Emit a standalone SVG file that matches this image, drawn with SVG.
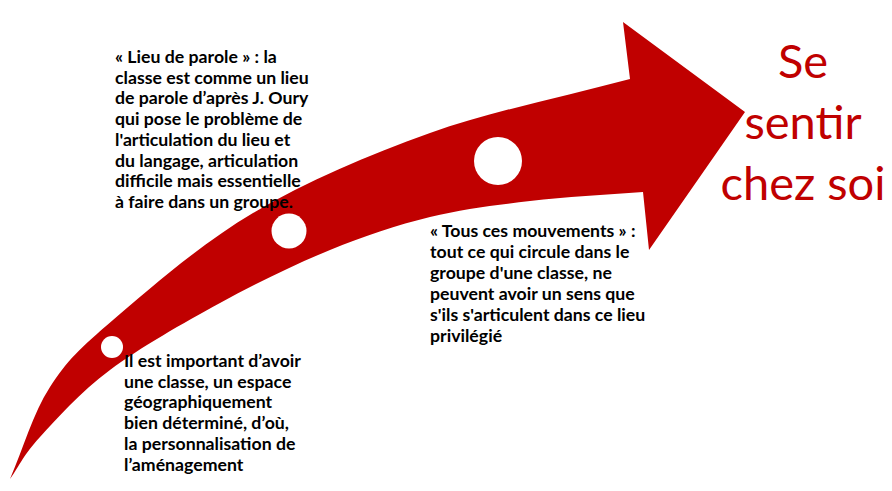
<svg xmlns="http://www.w3.org/2000/svg" width="892" height="491" viewBox="0 0 892 491">
<style>
.body{font-family:Lato,"Liberation Sans",sans-serif;font-weight:bold;font-size:17.7px;fill:#000}
.title{font-family:Lato,"Liberation Sans",sans-serif;font-size:47px;fill:#C00000;text-anchor:middle}
.dot{fill:#fff}
</style>
<rect width="892" height="491" fill="#fff"/>
<g id="arrow">
<path fill="#C00000" d="M10,479 C23.3,448.3 32.8,413.5 50,387 C67.2,360.5 79.2,349 113,320 C146.8,291 200.2,244.2 253,213 C305.8,181.8 367.2,155.3 430,133 C492.8,110.7 563.3,97 630,79 L623,22 L745,112 L649,250 L643,192 C605.3,195 565.5,196.8 530,201 C494.5,205.2 463.3,208.8 430,217 C396.7,225.2 365,235.7 330,250 C295,264.3 256.7,283 220,303 C183.3,323 140,347.7 110,370 C80,392.3 56.7,418.8 40,437 C23.3,455.2 20,465 10,479 Z"/>
<circle class="dot" cx="112" cy="347" r="11"/>
<circle class="dot" cx="289" cy="231" r="17.5"/>
<circle class="dot" cx="498" cy="161" r="24"/>
</g>
<g id="text-lieu" class="body">
<text x="115" y="63">« Lieu de parole » : la</text>
<text x="115" y="83.7">classe est comme un lieu</text>
<text x="115" y="104.4">de parole d’après J. Oury</text>
<text x="115" y="125.1">qui pose le problème de</text>
<text x="115" y="145.8">l'articulation du lieu et</text>
<text x="115" y="166.5">du langage, articulation</text>
<text x="115" y="187.2">difficile mais essentielle</text>
<text x="115" y="207.9">à faire dans un groupe.</text>
</g>
<g id="text-mouvements" class="body">
<text x="430" y="237">« Tous ces mouvements » :</text>
<text x="430" y="257.9">tout ce qui circule dans le</text>
<text x="430" y="278.8">groupe d'une classe, ne</text>
<text x="430" y="299.7">peuvent avoir un sens que</text>
<text x="430" y="320.6">s'ils s'articulent dans ce lieu</text>
<text x="430" y="341.5">privilégié</text>
</g>
<g id="text-espace" class="body">
<text x="124" y="367">Il est important d’avoir</text>
<text x="124" y="387.7">une classe, un espace</text>
<text x="124" y="408.4">géographiquement</text>
<text x="124" y="429.1">bien déterminé, d’où,</text>
<text x="124" y="449.8">la personnalisation de</text>
<text x="124" y="470.5">l’aménagement</text>
</g>
<g id="title">
<text class="title" x="803" y="78">Se</text>
<text class="title" x="803" y="139">sentir</text>
<text class="title" x="803" y="200">chez soi</text>
</g>
</svg>
